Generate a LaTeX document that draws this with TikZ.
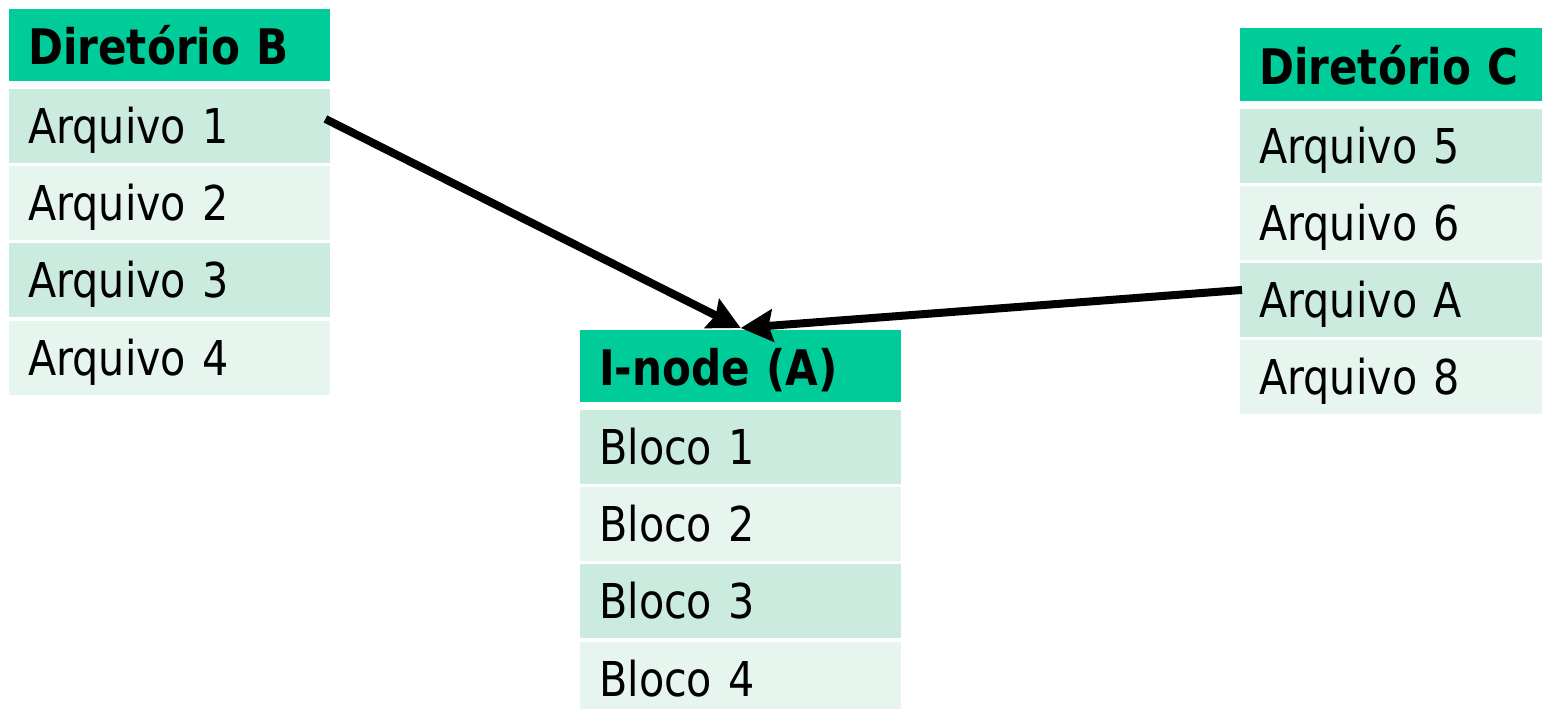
\documentclass[tikz,border=0pt]{standalone}
\usepackage{fontspec}
\setmainfont{DejaVu Sans}[FakeStretch=0.86]
\usetikzlibrary{arrows.meta}
\definecolor{hdr}{HTML}{00CC99}
\definecolor{banda}{HTML}{CBEBDF}
\definecolor{bandb}{HTML}{E7F5EF}
\tikzset{
  cell/.style={anchor=north west, inner xsep=19pt, inner ysep=0pt, text width=283pt,
    align=left, text height=35pt, text depth=0pt, font=\fontsize{48}{52}\selectfont},
  hcell/.style={cell, fill=hdr, minimum height=72pt, text height=39pt, font=\fontsize{49}{52}\selectfont\bfseries},
  rowa/.style={cell, fill=banda, minimum height=73.5pt},
  rowb/.style={cell, fill=bandb, minimum height=73.5pt},
  link/.style={line width=8pt, draw=black, -{Stealth[length=32pt,width=32pt,inset=4pt]}}
}
\begin{document}
\begin{tikzpicture}[x=1pt,y=-1pt]
\useasboundingbox (0,0) rectangle (1542,709);
\clip (0,0) rectangle (1542,709);
% Diretorio B
\node[hcell] (hb) at (9,9) {Diretório B};
\node[rowa] (b1) at (9,89) {Arquivo 1};
\node[rowb] (b2) at (9,166) {Arquivo 2};
\node[rowa] (b3) at (9,243) {Arquivo 3};
\node[rowb] (b4) at (9,321) {Arquivo 4};
% I-node A
\node[hcell] (ha) at (580,330) {I-node (A)};
\node[rowa] (a1) at (580,410) {Bloco 1};
\node[rowb] (a2) at (580,487) {Bloco 2};
\node[rowa] (a3) at (580,564) {Bloco 3};
\node[rowb] (a4) at (580,642) {Bloco 4};
% Diretorio C
\node[hcell, minimum height=73pt] (hc) at (1240,28) {Diretório C};
\node[rowa] (c1) at (1240,109) {Arquivo 5};
\node[rowb] (c2) at (1240,186) {Arquivo 6};
\node[rowa] (c3) at (1240,263) {Arquivo A};
\node[rowb] (c4) at (1240,340) {Arquivo 8};
% connectors
\coordinate (s1) at ([xshift=-5pt,yshift=7pt]b1.east);
\coordinate (s2) at ([xshift=2pt,yshift=10pt]c3.west);
\coordinate (t) at ([yshift=2pt]ha.north);
\draw[link] (s1) -- (t);
\draw[link] (s2) -- (t);
\end{tikzpicture}
\end{document}
